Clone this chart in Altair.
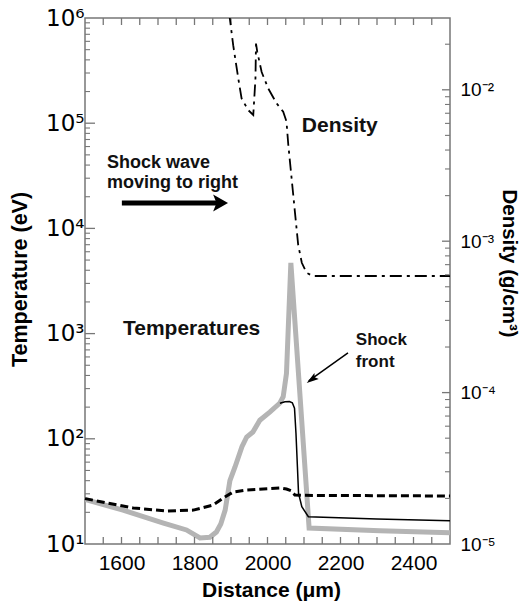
import altair as alt
import pandas as pd

# ---------------- data ----------------
# Grey thick temperature curve (eV)
gray_x = [1500, 1604, 1715, 1778, 1815, 1842, 1860, 1872, 1884, 1897, 1911, 1930,
          1943, 1960, 1979, 2007, 2034, 2043, 2052, 2064, 2114, 2308, 2500]
gray_t = [26.5, 21, 15.8, 13.6, 11.4, 11.6, 13, 15.5, 21, 40, 54, 84,
          104, 116, 150, 180, 219, 251, 420, 4700, 14.2, 13.4, 12.8]

# Thin black temperature curve (eV)
black_x = [2034, 2048, 2060, 2068, 2074, 2078, 2082, 2085, 2094, 2112, 2300, 2500]
black_t = [218, 225, 226, 220, 195, 113, 54, 30.5, 22.6, 18.2, 17.3, 16.6]

# Dashed temperature curve (eV)
dash_x = [1500, 1632, 1724, 1797, 1851, 1879, 1906, 1943, 2034, 2052, 2065, 2075, 2100, 2300, 2500]
dash_t = [27.0, 22, 20.6, 21, 23.5, 27.4, 31.2, 32.6, 34.1, 33.3, 32, 29.2, 29.0, 28.8, 28.6]

# Dash-dot density curve (g/cm^3)
dens_x = [1895, 1906, 1920, 1929, 1947, 1961, 1967, 1968.5, 1972, 1984, 2002, 2025,
          2043, 2052, 2057, 2066, 2075, 2084, 2094, 2107, 2125, 2300, 2500]
dens_r = [0.032, 0.0197, 0.01186, 0.00877, 0.00735, 0.00682, 0.01186, 0.0202, 0.0178,
          0.0131, 0.0102, 0.00813, 0.00716, 0.00617, 0.00432, 0.00261, 0.00157,
          0.00095, 0.00072, 0.000618, 0.000589, 0.000589, 0.000589]

# Axis tick values
x_labels = [1600, 1800, 2000, 2200, 2400]
x_ticks = list(range(1550, 2500, 50))
t_major = [1e1, 1e2, 1e3, 1e4, 1e5, 1e6]
t_minor = [m * 10 ** e for e in range(1, 6) for m in range(2, 10)]
d_major = [1e-5, 1e-4, 1e-3, 1e-2]
d_minor = [m * 10.0 ** e for e in range(-5, -1) for m in range(2, 10) if m * 10.0 ** e < 0.0298]

# Annotations (data coordinates)
temp_texts = pd.DataFrame({
    "x": [1560, 1560, 1604, 2242, 2242],
    "y": [37500, 24200, 970, 780, 484],
    "label": ["Shock wave", "moving to right", "Temperatures", "Shock", "front"],
    "size": [18, 18, 21, 17, 17],
})
dens_texts = pd.DataFrame({"x": [2094], "y": [0.00524], "label": ["Density"]})

# Big arrow "moving to right"
arrow_shaft = pd.DataFrame({"x": [1601], "x2": [1871], "y": [17400]})
arrow_head = pd.DataFrame({"x": [1868.5], "y": [17400]})
# Shock-front arrow
sf_shaft = pd.DataFrame({"x": [2220.5], "x2": [2113], "y": [655], "y2": [355]})
sf_head = pd.DataFrame({"x": [2121], "y": [366]})

# ---------------- chart ----------------
W, H = 365, 526
FONT = "Liberation Sans"

xs = alt.Scale(domain=[1500, 2500], nice=False, zero=False)
ts = alt.Scale(type="log", domain=[10, 1e6], nice=False)
ds = alt.Scale(type="log", domain=[1e-5, 0.0298], nice=False)

x_axis = alt.Axis(values=x_labels, format="d", ticks=False, tickSize=0, domain=False, grid=False,
                  labelFont=FONT, labelFontSize=21, labelPadding=8, labelColor="#000",
                  title="Distance (μm)", titleFont=FONT, titleFontSize=21, titleFontWeight="bold",
                  titleColor="#000", titleY=46, titleX=186, titleBaseline="middle")
t_axis = alt.Axis(values=t_major, ticks=False, tickSize=0, domain=False, grid=False,
                  labelExpr="['10¹','10²','10³','10⁴','10⁵','10⁶'][round(log(datum.value)/LN10) - 1]",
                  labelFont="DejaVu Sans", labelFontSize=23, labelPadding=1, labelColor="#000",
                  title="Temperature (eV)", titleFont=FONT, titleFontSize=21.5, titleFontWeight="bold",
                  titleColor="#000", titleX=-65, titleY=261, titleBaseline="middle", titleAngle=270)
d_axis = alt.Axis(values=d_major, orient="right", ticks=False, tickSize=0, domain=False, grid=False,
                  labelExpr="['10⁻⁵','10⁻⁴','10⁻³','10⁻²'][round(log(datum.value)/LN10) + 5]",
                  labelFont=FONT, labelFontSize=19, labelPadding=10, labelColor="#000",
                  title="Density (g/cm³)", titleFont=FONT, titleFontSize=20.5, titleFontWeight="bold",
                  titleColor="#000", titleX=58, titleY=245, titleBaseline="middle", titleAngle=90)


def X(field="x"):
    return alt.X(f"{field}:Q", scale=xs, axis=x_axis, title="Distance (μm)")


def YT(field="y"):
    return alt.Y(f"{field}:Q", scale=ts, axis=t_axis, title="Temperature (eV)")


def YD(field="y"):
    return alt.Y(f"{field}:Q", scale=ds, axis=d_axis, title="Density (g/cm³)")


gray_df = pd.DataFrame({"x": gray_x, "y": gray_t})
black_df = pd.DataFrame({"x": black_x, "y": black_t})
dash_df = pd.DataFrame({"x": dash_x, "y": dash_t})
dens_df = pd.DataFrame({"x": dens_x, "y": dens_r})

gray = alt.Chart(gray_df).mark_line(color="#b4b4b4", strokeWidth=5, clip=True).encode(x=X(), y=YT())
dashed = alt.Chart(dash_df).mark_line(color="#000", strokeWidth=3, strokeDash=[8, 4]).encode(x=X(), y=YT())
black = alt.Chart(black_df).mark_line(color="#000", strokeWidth=1.5).encode(x=X(), y=YT())

tick_color = "#777"
xt_df = pd.DataFrame({"x": x_ticks})
xt_bottom = alt.Chart(xt_df).mark_rule(color=tick_color, strokeWidth=1.3).encode(
    x=X(), y=alt.value(H), y2=alt.value(H - 7))
xt_top = alt.Chart(xt_df).mark_rule(color=tick_color, strokeWidth=1.3).encode(
    x=X(), y=alt.value(0), y2=alt.value(7))
tl_major = alt.Chart(pd.DataFrame({"y": t_major[1:-1]})).mark_rule(color=tick_color, strokeWidth=1.3).encode(
    y=YT(), x=alt.value(0), x2=alt.value(10))
tl_minor = alt.Chart(pd.DataFrame({"y": t_minor})).mark_rule(color=tick_color, strokeWidth=1.1).encode(
    y=YT(), x=alt.value(0), x2=alt.value(5))

t_text = alt.Chart(temp_texts).mark_text(font=FONT, fontWeight="bold", align="left",
                                         baseline="alphabetic", color="#111").encode(
    x=X(), y=YT(), text="label:N", size=alt.Size("size:Q", scale=None, legend=None))

shaft = alt.Chart(arrow_shaft).mark_rule(color="#000", strokeWidth=5).encode(x=X(), x2="x2:Q", y=YT())
head = alt.Chart(arrow_head).mark_point(shape="M-0.75,-1 L1,0 L-0.75,1 L-0.35,0 Z", size=290,
                                        filled=True, color="#000", opacity=1).encode(x=X(), y=YT())
sf_line = alt.Chart(sf_shaft).mark_rule(color="#000", strokeWidth=1.5).encode(
    x=X(), x2="x2:Q", y=YT(), y2="y2:Q")
sf_arrow = alt.Chart(sf_head).mark_point(shape="M0,-1 L0.6,1 L0,0.6 L-0.6,1 Z", size=150, angle=234,
                                         filled=True, color="#000", opacity=1).encode(x=X(), y=YT())

temp_layer = alt.layer(gray, dashed, black, xt_bottom, xt_top, tl_major, tl_minor,
                       t_text, shaft, head, sf_line, sf_arrow)

dens = alt.Chart(dens_df).mark_line(color="#000", strokeWidth=1.8, strokeDash=[12, 5, 3, 5],
                                    clip=True).encode(x=X(), y=YD())
dr_major = alt.Chart(pd.DataFrame({"y": d_major[1:]})).mark_rule(color=tick_color, strokeWidth=1.3).encode(
    y=YD(), x=alt.value(W - 8), x2=alt.value(W))
dr_minor = alt.Chart(pd.DataFrame({"y": d_minor})).mark_rule(color=tick_color, strokeWidth=1.1).encode(
    y=YD(), x=alt.value(W - 5), x2=alt.value(W))
d_text = alt.Chart(dens_texts).mark_text(font=FONT, fontWeight="bold", align="left",
                                         baseline="alphabetic", fontSize=21, color="#111").encode(
    x=X(), y=YD(), text="label:N")

dens_layer = alt.layer(dens, dr_major, dr_minor, d_text)

chart = alt.layer(temp_layer, dens_layer).resolve_scale(y="independent").properties(
    width=W, height=H,
    autosize=alt.AutoSizeParams(type="none"),
    padding={"left": 85, "top": 18, "right": 74, "bottom": 61},
    background="white",
).configure_view(stroke="#777", strokeWidth=1.5)

chart.save("out.html", embed_options={"renderer": "svg", "actions": False})
